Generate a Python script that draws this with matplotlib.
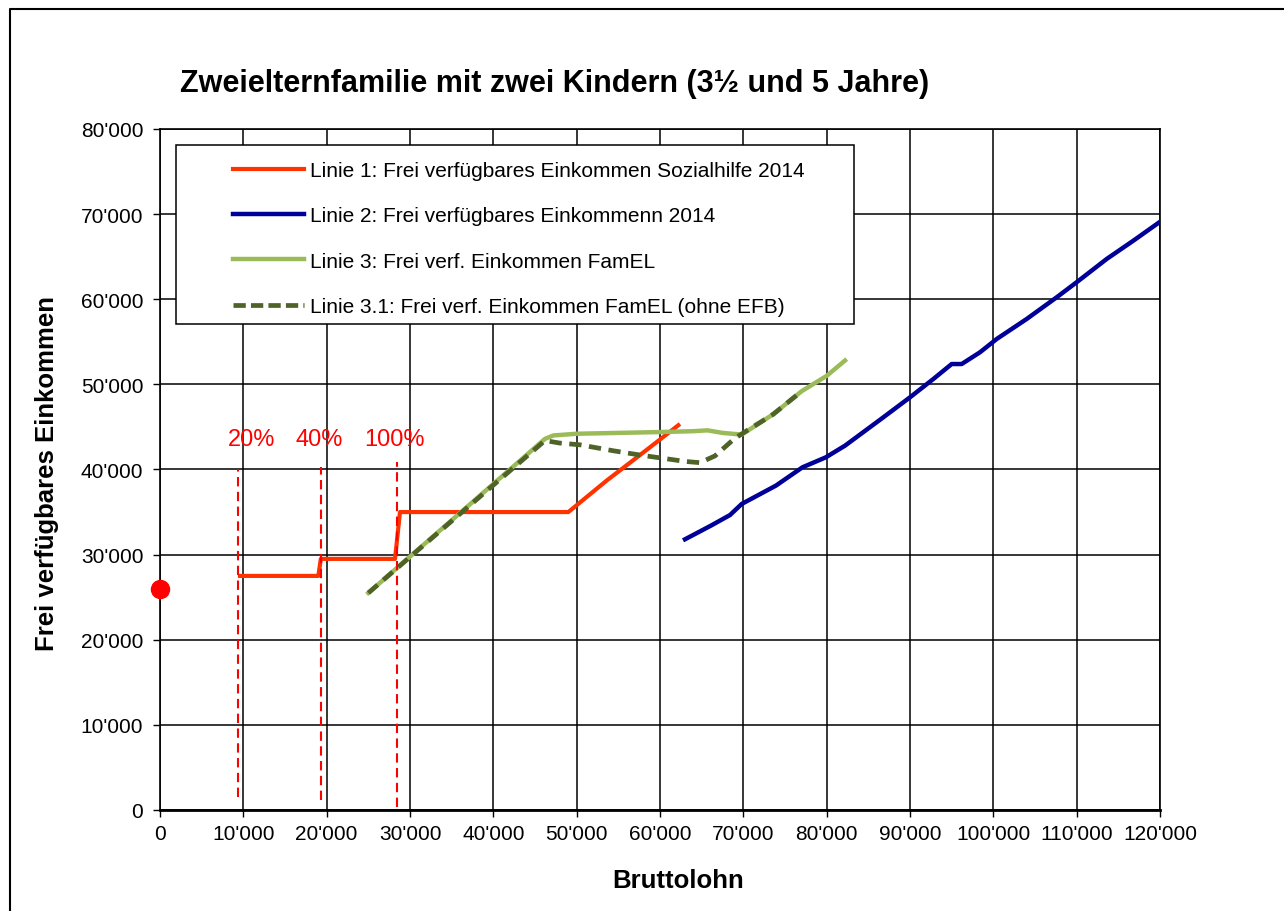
import matplotlib
matplotlib.use('Agg')
import matplotlib.pyplot as plt
from matplotlib import font_manager
from matplotlib.lines import Line2D
from matplotlib.patches import Rectangle
from matplotlib.ticker import FuncFormatter, MultipleLocator

# Linie 1: Sozialhilfe
soz_x = [9600, 19000, 19300, 28200, 28800, 49000, 53600, 57600, 62200]
soz_y = [27500, 27500, 29500, 29500, 35000, 35000, 38700, 41700, 45200]
soz_dot_x = [0]
soz_dot_y = [26000]

# Linie 2: Frei verfügbares Einkommen 2014
ein_x = [63000, 66100, 68400, 69800, 73900, 77100, 79900, 82200, 86800, 90000, 92800,
         95000, 96200, 98400, 100400, 104000, 107600, 110000, 113600, 116800, 120000]
ein_y = [31800, 33400, 34650, 35950, 38100, 40260, 41430, 42800, 46130, 48480, 50630,
         52390, 52390, 53770, 55330, 57680, 60230, 62000, 64730, 66880, 69100]

# Linie 3: FamEL
fam_x = [25000, 46200, 47200, 50000, 55000, 60000, 64000, 65700, 67500, 69800, 73600, 77000, 80000, 82200]
fam_y = [25500, 43600, 44000, 44200, 44300, 44400, 44500, 44600, 44300, 44100, 46500, 49200, 51000, 52800]

# Linie 3.1: FamEL ohne EFB
efb_x = [25000, 46200, 48000, 50400, 54400, 57600, 61200, 63000, 64800, 66600, 68900, 70000, 73600, 77000]
efb_y = [25500, 43400, 43100, 42900, 42200, 41700, 41200, 40950, 40800, 41600, 43600, 44300, 46500, 49200]

# Schwellen
thr_x = [9300, 19300, 28400]
thr_top = [40000, 40300, 40900]
thr_bottom = [1500, 1200, 300]
thr_labels = ['20%', '40%', '100%']
thr_label_x = [11000, 19100, 28200]
thr_label_y = 43600

labels = [
    'Linie 1: Frei verfügbares Einkommen Sozialhilfe 2014',
    'Linie 2: Frei verfügbares Einkommenn 2014',
    'Linie 3: Frei verf. Einkommen FamEL',
    'Linie 3.1: Frei verf. Einkommen FamEL (ohne EFB)',
]
title = 'Zweielternfamilie mit zwei Kindern (3½ und 5 Jahre)'

RED = '#FF3300'
BLUE = '#000099'
LGREEN = '#9BBB59'
DGREEN = '#4F6228'


def pick(*names):
    have = {f.name for f in font_manager.fontManager.ttflist}
    for n in names:
        if n in have:
            return n
    return 'DejaVu Sans'


ARIAL = pick('Liberation Sans', 'Arial')
NARROW = pick('Liberation Sans Narrow', 'Liberation Sans')

W, H = 1284, 912
fig = plt.figure(figsize=(W / 100, H / 100), dpi=100)
ax = fig.add_axes([160 / W, 1 - 811 / H, 1000 / W, 681 / H])

ax.plot(soz_x, soz_y, color=RED, lw=3, zorder=3)
ax.plot(soz_dot_x, soz_dot_y, 'o', color='#FF0000', ms=13, clip_on=False, zorder=6)
ax.plot(ein_x, ein_y, color=BLUE, lw=3.2, zorder=3)
ax.plot(fam_x, fam_y, color=LGREEN, lw=3.2, zorder=3)
ax.plot(efb_x, efb_y, color=DGREEN, lw=3.4, dashes=(2.6, 1.6), zorder=3)

for x, top, bot in zip(thr_x, thr_top, thr_bottom):
    ax.plot([x, x], [bot, top], color='#FF0000', lw=1.5, dashes=(4.5, 2.6), zorder=3)
for x, t in zip(thr_label_x, thr_labels):
    ax.text(x, thr_label_y, t, color='#FF0000', fontsize=17, family=ARIAL,
            ha='center', va='center', zorder=4)

ax.set_xlim(0, 120000)
ax.set_ylim(0, 80000)
ax.xaxis.set_major_locator(MultipleLocator(10000))
ax.yaxis.set_major_locator(MultipleLocator(10000))
fmt = FuncFormatter(lambda v, p: f'{v:,.0f}'.replace(',', "'"))
ax.xaxis.set_major_formatter(fmt)
ax.yaxis.set_major_formatter(fmt)
ax.grid(True, color='black', lw=1.1, zorder=1)
ax.set_axisbelow(True)
for s in ax.spines.values():
    s.set_color('black')
    s.set_linewidth(1.2)
ax.spines['bottom'].set_linewidth(2)
ax.tick_params(direction='out', length=5, width=1, color='black', labelsize=15)
ax.tick_params(axis='y', pad=7)
ax.tick_params(axis='x', pad=5)
for lab in ax.get_xticklabels() + ax.get_yticklabels():
    lab.set_family(ARIAL)

ax.set_xlabel('Bruttolohn', fontsize=18.5, fontweight='bold', family=ARIAL)
ax.xaxis.set_label_coords(0.518, -0.085)
ax.set_ylabel('Frei verfügbares Einkommen', fontsize=18.5, fontweight='bold', family=ARIAL)
ax.yaxis.set_label_coords(-0.101, 0.495)

# Legende
ax.add_patch(Rectangle((0.016, 0.7137), 0.678, 0.2628, transform=ax.transAxes,
                       facecolor='white', edgecolor='black', lw=1.1, zorder=5))
handles = [
    Line2D([], [], color=RED, lw=3),
    Line2D([], [], color=BLUE, lw=3.2),
    Line2D([], [], color=LGREEN, lw=3.2),
    Line2D([], [], color=DGREEN, lw=3.4, dashes=(2.6, 1.1)),
]
leg = ax.legend(handles, labels, loc='center left', bbox_to_anchor=(0.073, 0.8392),
                frameon=False, borderpad=0, borderaxespad=0, handlelength=3.4,
                handletextpad=0.3, labelspacing=1.27, prop={'family': NARROW, 'size': 15})
leg.set_zorder(6)

fig.text(180 / W, 1 - 84 / H, title, fontsize=22, fontweight='bold', family=NARROW,
         ha='left', va='center')

# Rahmen
fig.add_artist(Line2D([10 / W, 10 / W, 1], [0, 1 - 10 / H, 1 - 10 / H],
                      transform=fig.transFigure, color='black', lw=1.5))

fig.savefig('out.png', dpi=100, facecolor='white')
